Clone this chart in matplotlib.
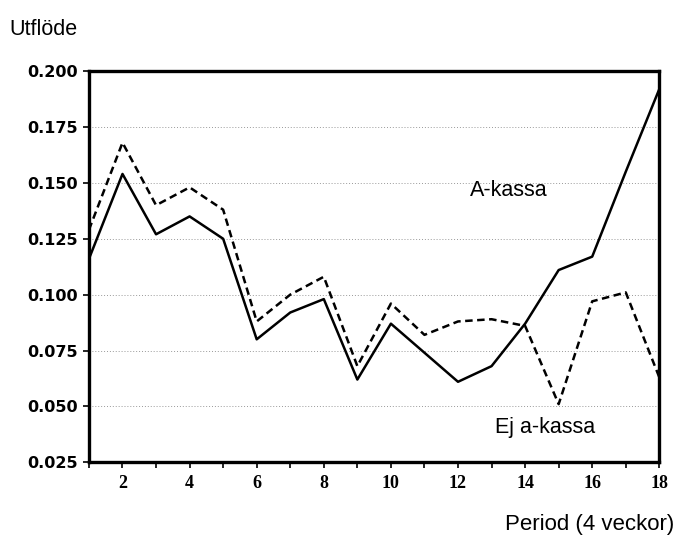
import numpy as np
import matplotlib
matplotlib.use("Agg")
import matplotlib.pyplot as plt

# periods 1..18 (4-week periods)
period = np.arange(1, 19)

# outflow rate, members of unemployment fund (A-kassa)
a_kassa = [0.116, 0.154, 0.127, 0.135, 0.125, 0.080, 0.092, 0.098, 0.062,
           0.087, 0.074, 0.061, 0.068, 0.087, 0.111, 0.117, 0.155, 0.192]
# outflow rate, non-members (Ej a-kassa)
ej_a_kassa = [0.129, 0.168, 0.140, 0.148, 0.138, 0.088, 0.100, 0.108, 0.068,
              0.096, 0.082, 0.088, 0.089, 0.086, 0.051, 0.097, 0.101, 0.063]

yticks = [0.025, 0.050, 0.075, 0.100, 0.125, 0.150, 0.175, 0.200]
xticks = [2, 4, 6, 8, 10, 12, 14, 16, 18]

fig = plt.figure(figsize=(6.79, 5.35), dpi=100)
ax = fig.add_axes([0.131, 0.136, 0.840, 0.731])

ax.plot(period, a_kassa, color='black', linewidth=1.8)
ax.plot(period, ej_a_kassa, color='black', linewidth=1.8, linestyle=(0, (3.0, 1.8)))

ax.set_xlim(1, 18)
ax.set_ylim(0.025, 0.200)
ax.set_yticks(yticks)
ax.set_yticklabels([f"{v:.3f}" for v in yticks], fontweight='bold',
                   fontfamily='DejaVu Sans', fontsize=11.5)
ax.set_xticks(xticks)
ax.set_xticklabels([str(v) for v in xticks], fontweight='bold',
                   fontfamily='Liberation Serif', fontsize=13)
ax.set_xticks(period, minor=True)
ax.tick_params(axis='y', which='major', direction='out', length=4, width=1.2, pad=4)
ax.tick_params(axis='x', which='major', direction='out', length=4, width=1.2, pad=5)
ax.tick_params(axis='x', which='minor', direction='out', length=4, width=1.2)

# dotted horizontal grid lines
ax.yaxis.grid(True, linestyle=(0, (1, 2)), color='#999999', linewidth=0.7)
ax.xaxis.grid(False)

for s in ax.spines.values():
    s.set_linewidth(2.4)
    s.set_color('black')

fig.text(0.014, 0.945, "Utflöde", fontsize=15.5, fontfamily='Liberation Sans',
         ha='left', va='center')
fig.text(0.993, 0.019, "Period (4 veckor)", fontsize=16, fontfamily='Liberation Sans',
         ha='right', va='center')
ax.text(13.5, 0.1465, "A-kassa", fontsize=15.5, fontfamily='Liberation Sans',
        ha='center', va='center')
ax.text(14.6, 0.0405, "Ej a-kassa", fontsize=15.5, fontfamily='Liberation Sans',
        ha='center', va='center')

fig.savefig("out.png", dpi=100)
